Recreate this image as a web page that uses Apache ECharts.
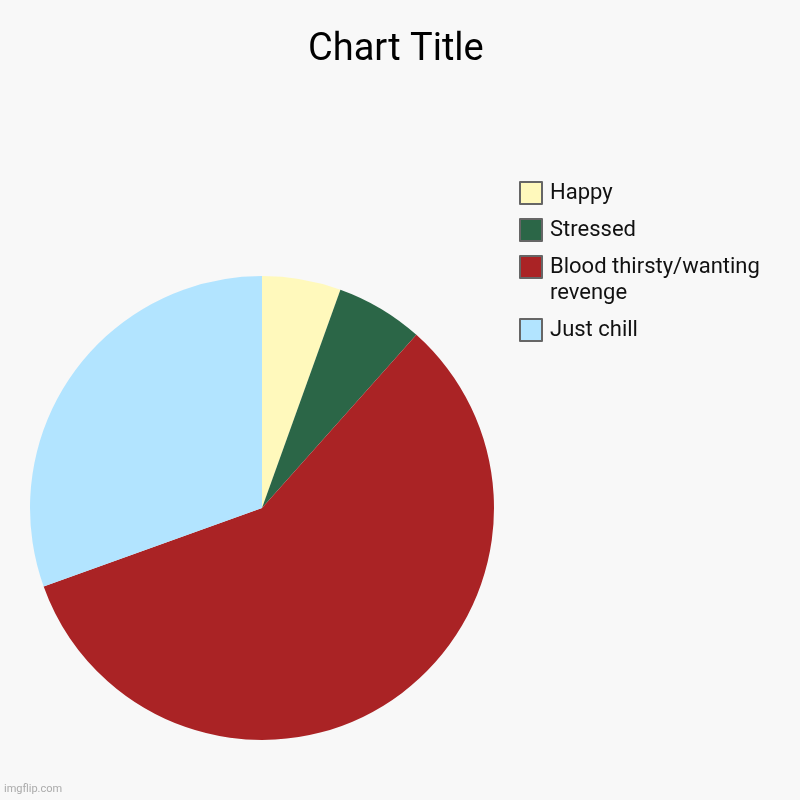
<!DOCTYPE html>
<html>
<head>
<meta charset="utf-8">
<script src="https://cdn.jsdelivr.net/npm/echarts@6/dist/echarts.min.js"></script>
<style>html,body{margin:0;padding:0;background:#f8f8f8;}#c{width:800px;height:800px;}</style>
</head>
<body>
<div id="c"></div>
<script>
const categories = ['Happy', 'Stressed', 'Blood thirsty/wanting revenge', 'Just chill'];
const legendLabels = ['Happy', 'Stressed', '\nBlood thirsty/wanting\nrevenge', 'Just chill'];
const values = [9, 10, 95, 50];
const colors = ['#fff9bc', '#2b6647', '#aa2325', '#b2e4ff'];

const chart = echarts.init(document.getElementById('c'));
const iconCenters = [193, 230, 267, 330];
const legends = categories.map((name, i) => ({
  orient: 'vertical',
  left: 519,
  top: iconCenters[i] - (i === 2 ? 39 : 13),
  padding: 0,
  itemWidth: 22,
  itemHeight: 22,
  itemGap: 0,
  icon: 'rect',
  selectedMode: false,
  data: [name],
  formatter: () => legendLabels[i],
  itemStyle: { borderColor: '#666', borderWidth: 2 },
  textStyle: {
    fontFamily: 'Roboto',
    fontSize: 22,
    color: '#111',
    lineHeight: 26,
    padding: [0, 0, 0, 3]
  }
}));

chart.setOption({
  backgroundColor: '#f8f8f8',
  title: {
    text: 'Chart Title',
    left: 308,
    top: 31,
    padding: 0,
    textStyle: { fontFamily: 'Roboto', fontSize: 38, fontWeight: 'normal', color: '#000' }
  },
  legend: legends,
  series: [{
    type: 'pie',
    center: [262, 508],
    radius: 232,
    startAngle: 90,
    clockwise: true,
    label: { show: false },
    labelLine: { show: false },
    emphasis: { disabled: true },
    animation: false,
    data: categories.map((name, i) => ({ name, value: values[i], itemStyle: { color: colors[i] } }))
  }],
  graphic: [{
    type: 'text',
    left: 4,
    top: 784,
    style: { text: 'imgflip.com', fontFamily: 'Roboto', fontSize: 11, fill: '#aaa' }
  }]
});
</script>
</body>
</html>
